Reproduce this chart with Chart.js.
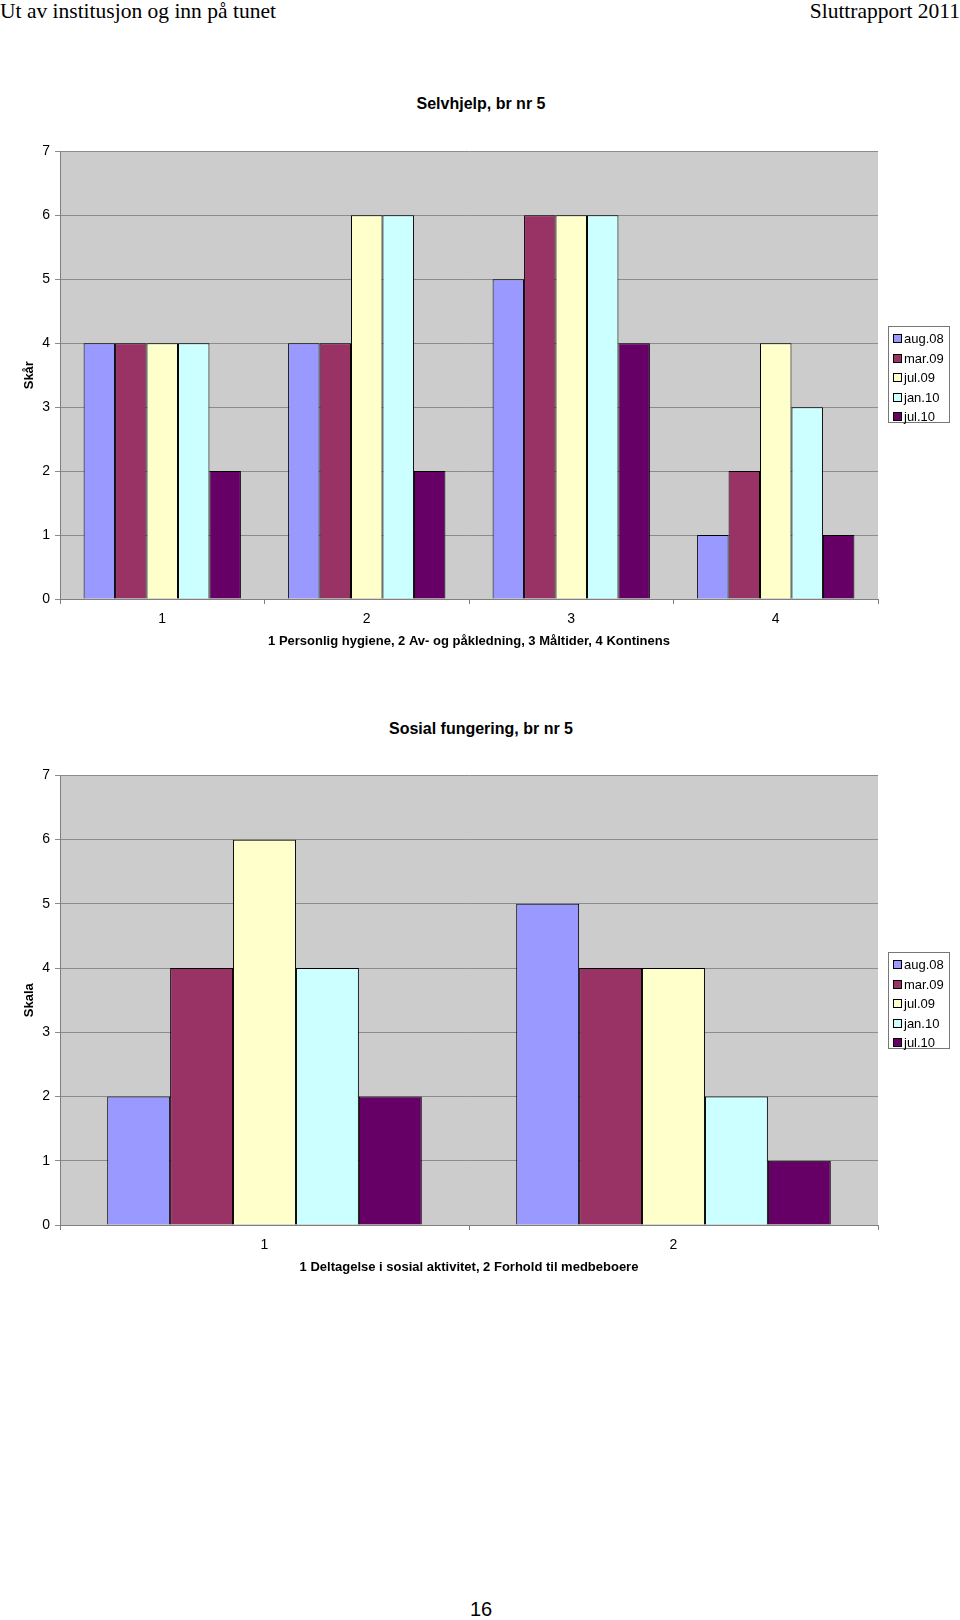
<!DOCTYPE html>
<html lang="no">
<head>
<meta charset="UTF-8">
<title>Selvhjelp og sosial fungering, br nr 5</title>
<script src="https://cdn.jsdelivr.net/npm/chart.js@4.4.0/dist/chart.umd.min.js"></script>
<style>
    body { margin: 0; width: 960px; height: 1620px; position: relative; background: #fff;
           font-family: "Liberation Sans", Arial, sans-serif; overflow: hidden; }
    .hdr { position: absolute; top: -1px; font-family: "Liberation Serif", "Times New Roman", serif;
           font-size: 21.5px; line-height: 24px; white-space: nowrap; }
    .tittel { position: absolute; left: 0; width: 962px; text-align: center; font-weight: bold; white-space: nowrap;
              font-size: 16px; }
    canvas { position: absolute; left: 0; }
    .legend { position: absolute; left: 888px; width: 62px; background: #fff; border: 1px solid #777;
              font-size: 13px; box-sizing: border-box; padding: 2px 0 0 4px; }
    .legend div { height: 19.5px; line-height: 19.5px; white-space: nowrap; }
    .legend span { display: inline-block; width: 7px; height: 7px; border: 1px solid #000;
                   margin-right: 2px; vertical-align: 0px; }
    .sidetall { position: absolute; top: 1598px; left: 0; width: 962px; text-align: center; font-size: 20px; }
</style>
</head>
<body>
<div class="hdr" style="left:0">Ut av institusjon og inn på tunet</div>
<div class="hdr" style="right:0">Sluttrapport 2011</div>

<div class="tittel" style="top:95px">Selvhjelp, br nr 5</div>
<canvas id="selvhjelp" width="890" height="521" style="top:138px"></canvas>
<div class="legend" id="legend1" style="top:326px; height:97px"></div>

<div class="tittel" style="top:720px">Sosial fungering, br nr 5</div>
<canvas id="sosial" width="890" height="523" style="top:762px"></canvas>
<div class="legend" id="legend2" style="top:952px; height:97px"></div>

<div class="sidetall">16</div>

<script>
    // Serier (samme for begge diagrammene)
    const serieNavn = ['aug.08', 'mar.09', 'jul.09', 'jan.10', 'jul.10'];
    const serieFarger = ['#9999FF', '#993366', '#FFFFCC', '#CCFFFF', '#660066'];

    // Selvhjelp: 1 Personlig hygiene, 2 Av- og påkledning, 3 Måltider, 4 Kontinens
    const selvhjelpKategorier = ['1', '2', '3', '4'];
    const selvhjelpAug08 = [4, 4, 5, 1];
    const selvhjelpMar09 = [4, 4, 6, 2];
    const selvhjelpJul09 = [4, 6, 6, 4];
    const selvhjelpJan10 = [4, 6, 6, 3];
    const selvhjelpJul10 = [2, 2, 4, 1];

    // Sosial fungering: 1 Deltagelse i sosial aktivitet, 2 Forhold til medbeboere
    const sosialKategorier = ['1', '2'];
    const sosialAug08 = [2, 5];
    const sosialMar09 = [4, 4];
    const sosialJul09 = [6, 4];
    const sosialJan10 = [4, 2];
    const sosialJul10 = [2, 1];

    // Verdiakse
    const yMin = 0;
    const yMax = 7;
    const yStep = 1;

    const plotBakgrunn = {
        id: 'plotBakgrunn',
        beforeDraw(chart) {
            const { ctx, chartArea: a } = chart;
            ctx.save();
            ctx.fillStyle = '#CCCCCC';
            ctx.fillRect(a.left, a.top, a.right - a.left, a.bottom - a.top);
            ctx.restore();
        }
    };

    const font = { family: '"Liberation Sans", Arial, sans-serif', size: 14 };
    const fontFet = { family: '"Liberation Sans", Arial, sans-serif', size: 13, weight: 'bold' };

    function lagDiagram(id, kategorier, serier, yTittel, xTittel) {
        new Chart(document.getElementById(id), {
            type: 'bar',
            data: {
                labels: kategorier,
                datasets: serier.map((verdier, i) => ({
                    label: serieNavn[i],
                    data: verdier,
                    backgroundColor: serieFarger[i],
                    borderColor: '#000',
                    borderWidth: 1,
                    barPercentage: 1,
                    categoryPercentage: 5 / 6.5
                }))
            },
            options: {
                responsive: false,
                animation: false,
                layout: { padding: { top: 12, right: 12, left: 0, bottom: 0 } },
                plugins: { legend: { display: false }, tooltip: { enabled: false } },
                scales: {
                    x: {
                        grid: { drawOnChartArea: false, offset: true, tickLength: 5, color: '#808080' },
                        border: { color: '#808080' },
                        ticks: { color: '#000', font: font, padding: 7 },
                        title: { display: true, text: xTittel, color: '#000', font: fontFet, padding: { bottom: 10 } },
                        afterFit(scale) { scale.height = 60; }
                    },
                    y: {
                        min: yMin,
                        max: yMax,
                        grid: { color: '#8C8C8C', tickLength: 5 },
                        border: { color: '#808080' },
                        ticks: { stepSize: yStep, color: '#000', font: font, padding: 5 },
                        title: { display: true, text: yTittel, color: '#000', font: fontFet, padding: { top: 22 } },
                        afterFit(scale) { scale.width = 60; }
                    }
                }
            },
            plugins: [plotBakgrunn]
        });
    }

    function lagLegend(id) {
        const el = document.getElementById(id);
        serieNavn.forEach((navn, i) => {
            const rad = document.createElement('div');
            const rute = document.createElement('span');
            rute.style.background = serieFarger[i];
            rad.appendChild(rute);
            rad.appendChild(document.createTextNode(navn));
            el.appendChild(rad);
        });
    }

    lagDiagram('selvhjelp', selvhjelpKategorier,
        [selvhjelpAug08, selvhjelpMar09, selvhjelpJul09, selvhjelpJan10, selvhjelpJul10],
        'Skår', '1 Personlig hygiene, 2 Av- og påkledning, 3 Måltider, 4 Kontinens');
    lagDiagram('sosial', sosialKategorier,
        [sosialAug08, sosialMar09, sosialJul09, sosialJan10, sosialJul10],
        'Skala', '1 Deltagelse i sosial aktivitet, 2 Forhold til medbeboere');
    lagLegend('legend1');
    lagLegend('legend2');
</script>
</body>
</html>
